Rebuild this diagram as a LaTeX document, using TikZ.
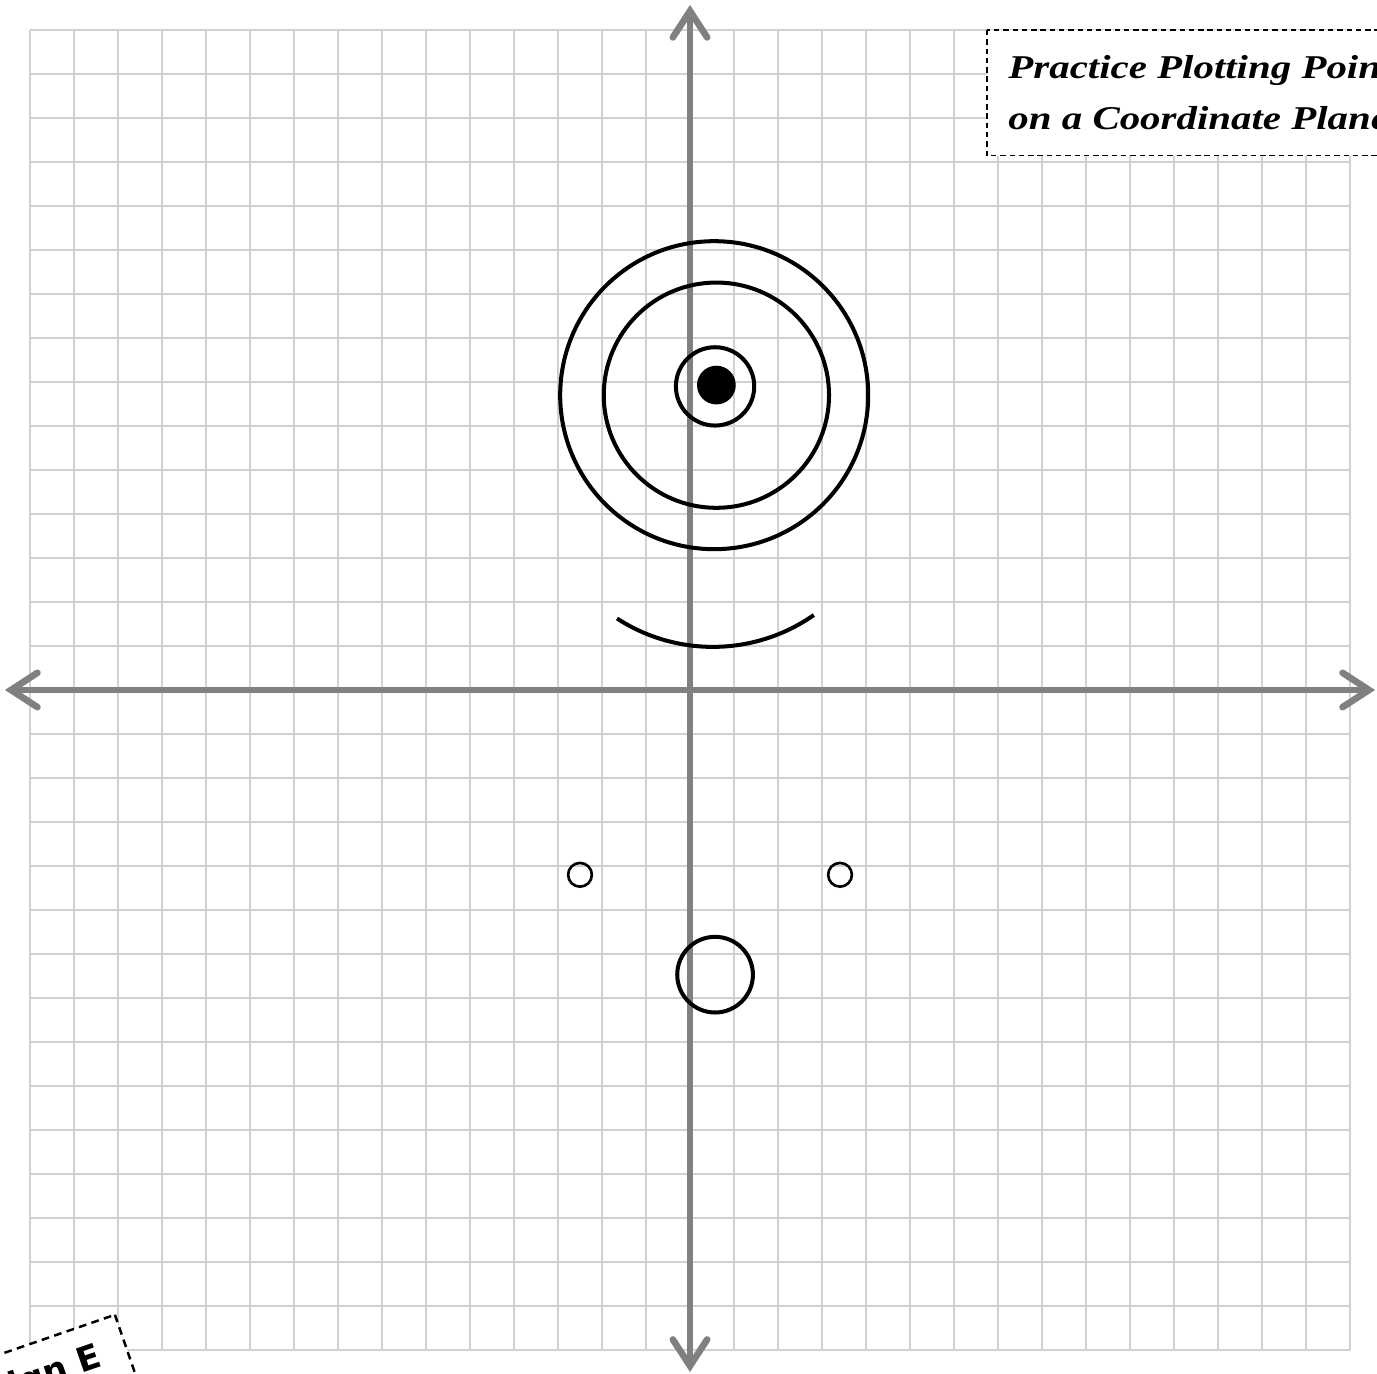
\documentclass[tikz,border=0pt]{standalone}
\usepackage{fontspec}
\setmainfont{Liberation Serif}
\newfontfamily\titlefont[FakeStretch=1.23]{Liberation Serif}
\newfontfamily\tagfont{DejaVu Sans}
\usetikzlibrary{arrows.meta}
\begin{document}
\begin{tikzpicture}[x=1cm,y=1cm,
  gridline/.style={draw=black!18, line width=1.5pt},
  barb/.tip={Straight Barb[length=0.6cm,width=0.78cm,line cap=round,line join=miter]},
  axisline/.style={draw=black!50, line width=4.3pt, barb-barb},
  thickring/.style={draw=black, line width=2.6pt},
  thinring/.style={draw=black, line width=1.7pt},
  titlebox/.style={draw=black, fill=white, line width=0.7pt, dash pattern=on 3.5pt off 2.5pt},
  tagbox/.style={draw=black, fill=white, line width=1.6pt, dash pattern=on 5pt off 3.5pt},
  titletext/.style={anchor=base west, inner sep=0pt, font=\titlefont\fontsize{21.5}{26}\selectfont\bfseries\itshape}
]
\useasboundingbox (-15.682,-15.545) rectangle (15.614,15.682);
\clip (-15.682,-15.545) rectangle (15.614,15.682);

% grid
\draw[gridline] (-15,-15) grid (15,15);

% axes
\coordinate (xl) at (-15.57,0);
\coordinate (xr) at (15.57,0);
\coordinate (yt) at (0,15.57);
\coordinate (yb) at (0,-15.5);
\draw[axisline] (xl) -- (xr);
\draw[axisline] (yb) -- (yt);

% eye
\draw[thickring] (0.55,6.7) circle (3.5);
\draw[thickring] (0.6,6.7) circle (2.56);
\draw[thickring] (0.57,6.9) circle (0.89);
\fill[black] (0.6,6.93) circle (0.44);

% smile
\draw[thickring] (0.52,4.98) ++(237:4) arc[start angle=237, end angle=305, radius=4];

% lower features
\draw[thinring] (-2.5,-4.2) circle (0.27);
\draw[thinring] (3.41,-4.2) circle (0.27);
\draw[thickring] (0.57,-6.47) circle (0.86);

% title
\draw[titlebox] (6.75,15) rectangle (17,12.14);
\node[titletext] (title1) at (7.23,13.89) {Practice Plotting Points};
\node[titletext] (title2) at (7.23,12.73) {on a Coordinate Plane};

% tag
\begin{scope}[shift={(-13.07,-14.20)}, rotate=19]
\draw[tagbox] (0,0) rectangle (-6,-1.9);
\node[anchor=base east, inner sep=0pt, rotate=19, font=\tagfont\bfseries\fontsize{22}{26}\selectfont] (tag) at (-0.62,-1.02) {Design E};
\end{scope}
\end{tikzpicture}
\end{document}
